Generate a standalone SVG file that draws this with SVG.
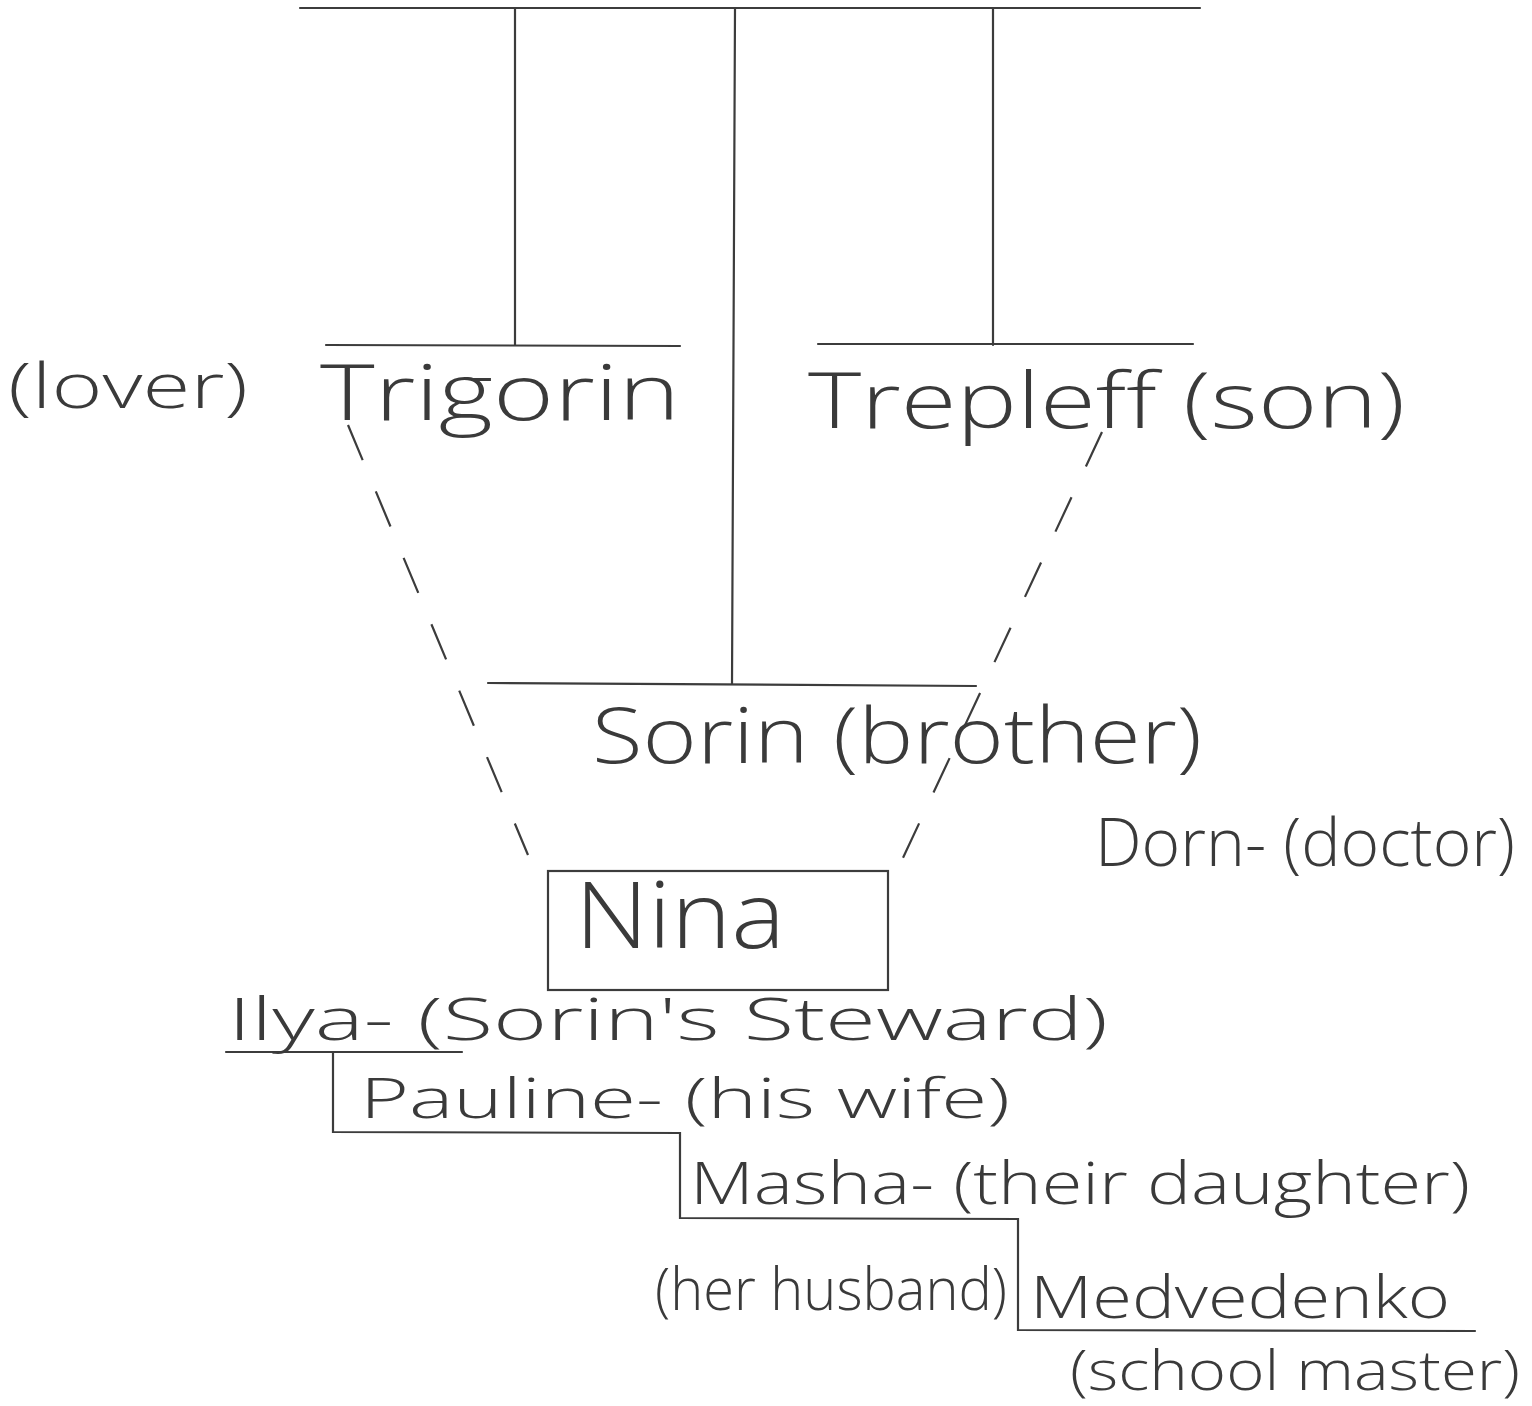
<svg xmlns="http://www.w3.org/2000/svg" width="1532" height="1406" viewBox="0 0 1532 1406">
<style>
.ln{stroke:#3c3c3c;stroke-width:2.2;fill:none;stroke-linecap:round}
.dash{stroke:#3c3c3c;stroke-width:2.2;fill:none;stroke-dasharray:38 34}
.t{font-family:"Open Sans","Liberation Sans",sans-serif;font-weight:300;fill:#3a3a3a}
</style>
<rect width="1532" height="1406" fill="#ffffff"/>
<g id="connectors">
<line class="ln" x1="300" y1="8" x2="1200" y2="8"/>
<line class="ln" x1="515" y1="8" x2="515" y2="345"/>
<line class="ln" x1="735" y1="8" x2="732" y2="684"/>
<line class="ln" x1="993" y1="8" x2="993" y2="345"/>
<line class="ln" x1="326" y1="345" x2="680" y2="346"/>
<line class="ln" x1="818" y1="344" x2="1193" y2="344"/>
<line class="ln" x1="488" y1="683" x2="976" y2="686"/>
<line class="dash" x1="348" y1="425" x2="528" y2="855"/>
<line class="dash" x1="1102" y1="432" x2="895" y2="875"/>
<polyline class="ln" points="226,1052 462,1052"/>
<polyline class="ln" points="333,1053 333,1132 680,1133 680,1218 1018,1219 1018,1330 1475,1331"/>
</g>
<g id="lover"><text class="t" x="8" y="408" font-size="62" textLength="240" lengthAdjust="spacingAndGlyphs">(lover)</text></g>
<g id="trigorin"><text class="t" x="320" y="420" font-size="78" textLength="360" lengthAdjust="spacingAndGlyphs">Trigorin</text></g>
<g id="trepleff"><text class="t" x="808" y="428" font-size="78" textLength="597" lengthAdjust="spacingAndGlyphs">Trepleff (son)</text></g>
<g id="sorin"><text class="t" x="592" y="763" font-size="78" textLength="610" lengthAdjust="spacingAndGlyphs">Sorin (brother)</text></g>
<g id="dorn"><text class="t" x="1095" y="866" font-size="66" textLength="420" lengthAdjust="spacingAndGlyphs">Dorn- (doctor)</text></g>
<g id="nina">
<rect x="548" y="871" width="340" height="119" class="ln"/>
<text class="t" x="575" y="948" font-size="92" textLength="210" lengthAdjust="spacingAndGlyphs">Nina</text>
</g>
<g id="ilya"><text class="t" x="228" y="1040" font-size="58" textLength="880" lengthAdjust="spacingAndGlyphs">Ilya- (Sorin's Steward)</text></g>
<g id="pauline"><text class="t" x="360" y="1118" font-size="56" textLength="650" lengthAdjust="spacingAndGlyphs">Pauline- (his wife)</text></g>
<g id="masha"><text class="t" x="690" y="1204" font-size="58" textLength="780" lengthAdjust="spacingAndGlyphs">Masha- (their daughter)</text></g>
<g id="medvedenko">
<text class="t" x="655" y="1310" font-size="58" textLength="352" lengthAdjust="spacingAndGlyphs">(her husband)</text>
<text class="t" x="1030" y="1318" font-size="58" textLength="420" lengthAdjust="spacingAndGlyphs">Medvedenko</text>
<text class="t" x="1070" y="1390" font-size="56" textLength="450" lengthAdjust="spacingAndGlyphs">(school master)</text>
</g>
</svg>
